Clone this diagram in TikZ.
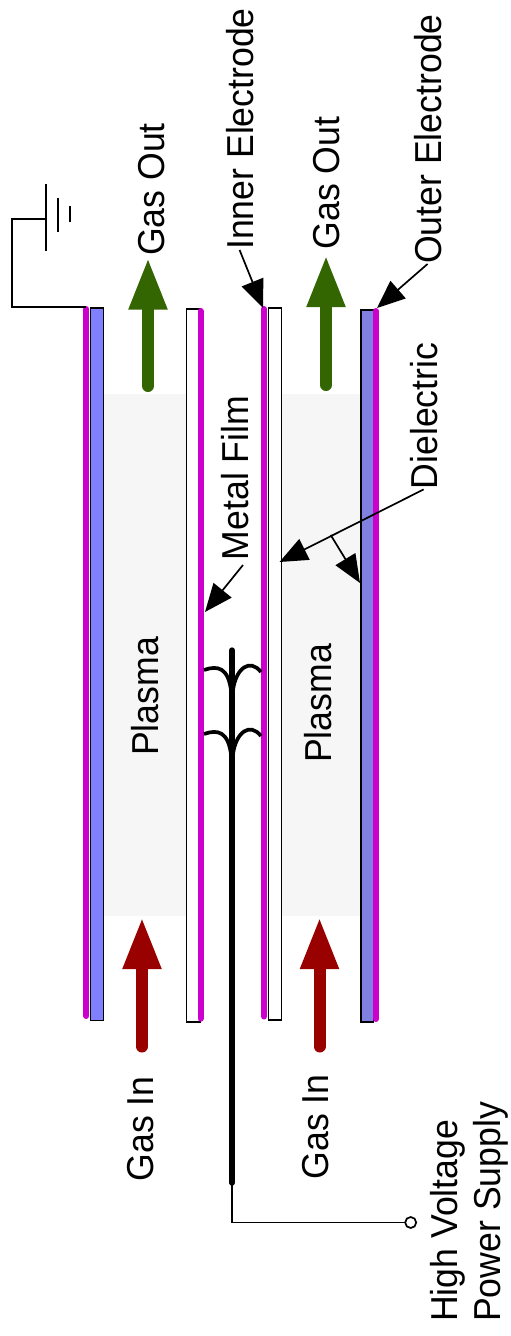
\documentclass[tikz,border=0pt]{standalone}
\usepackage{fontspec}
\setmainfont[FakeStretch=0.95]{Liberation Sans}
\usetikzlibrary{arrows.meta}
\definecolor{filmcol}{HTML}{CC00CC}
\definecolor{gasoutcol}{HTML}{336600}
\definecolor{gasincol}{HTML}{990000}
\definecolor{plasmacol}{HTML}{F6F6F6}
\definecolor{tubeleft}{HTML}{8080FF}
\definecolor{tuberight}{HTML}{8080E0}
\tikzset{
  film/.style={draw=filmcol,line width=6pt,line cap=round},
  caption/.style={rotate=90,anchor=base,inner sep=0pt,font=\fontsize{37.5}{45}\selectfont},
  wire/.style={line width=1.7pt},
  pointer/.style={line width=1.7pt,-{Triangle[length=28pt,width=23pt]}},
  gasflow/.style={line width=12pt,line cap=round,-{Triangle[length=52pt,width=35.5pt]}},
}
\begin{document}
\begin{tikzpicture}[x=1pt,y=-1pt]
\useasboundingbox (0,0) rectangle (511,1336);

% Plasma regions
\fill[plasmacol] (104,394) rectangle (186,916);
\fill[plasmacol] (282,394) rectangle (360,916);

% Films behind the tubes
\foreach \x/\a/\b in {86.3/309/1016,264/309/1016.5} {
  \draw[film] (\x,\a) -- (\x,\b);
}

% Dielectric tubes
\draw[wire,fill=tubeleft] (90.5,308) rectangle (103.5,1020.5);
\draw[wire,fill=white] (186.5,309) rectangle (200,1022);
\draw[wire,fill=white] (268.5,308) rectangle (281.5,1020);
\draw[wire,fill=tuberight] (361,310) rectangle (373.5,1022);

% Films over the tubes
\foreach \x/\a/\b in {200.5/311/1018.7,375.7/311/1019} {
  \draw[film] (\x,\a) -- (\x,\b);
}

% Gas arrows
\foreach \x/\y/\t in {148/386/257.5,326/385/255} {
  \draw[gasflow,color=gasoutcol] (\x,\y) -- (\x,\t);
}
\foreach \x/\y/\t in {142/1046.5/917,319.5/1046.5/917} {
  \draw[gasflow,color=gasincol] (\x,\y) -- (\x,\t);
}

% Labels
\node[caption] (gasout1) at (164,189.5) {Gas Out};
\node[caption] (gasout2) at (339,183) {Gas Out};
\node[caption] (inner) at (253,129) {Inner Electrode};
\node[caption] (outer) at (441,139) {Outer Electrode};
\node[caption] (dielectric) at (437,416) {Dielectric};
\node[caption] (metal) at (248,478) {Metal Film};
\node[caption] (plasma1) at (158,696.5) {Plasma};
\node[caption] (plasma2) at (331,703.5) {Plasma};
\node[caption] (gasin1) at (153,1129) {Gas In};
\node[caption] (gasin2) at (328,1127) {Gas In};
\node[caption,anchor=base west] (hv) at (457,1322) {High Voltage};
\node[caption,anchor=base west] (ps) at (500,1322) {Power Supply};

% Pointers
\coordinate (innertip) at (263,308);
\coordinate (outertip) at (377,308);
\coordinate (dieltip) at (279.5,562);
\coordinate (branch) at (330.7,535);
\coordinate (branchtip) at (360,583);
\coordinate (metalfrom) at (243,565);
\coordinate (metaltip) at (205,612);
\draw[pointer] (inner.west) -- (innertip);
\draw[pointer] (outer.west) -- (outertip);
\draw[pointer] (dielectric.west) -- (dieltip);
\draw[pointer] (branch) -- (branchtip);
\draw[pointer] (metalfrom) -- (metaltip);

% Ground
\draw[wire] (86,306.7) -- (11.7,306.7) -- (11.7,218.7) -- (45.7,218.7);
\draw[wire] (45.7,184) -- (45.7,251);
\draw[wire] (58,198) -- (58,231.7);
\draw[wire] (70,206) -- (70,221.7);

% High voltage lead
\draw[line width=5.3pt,line cap=round] (232,650) -- (232,1183);
\coordinate (terminal) at (410.7,1222.5);
\draw[wire] (232,1183) -- (232,1222.5) -- (405,1222.5);
\draw[wire,fill=white] (terminal) circle (5.5);

% Coupling curves
\foreach \d in {0,64} {
  \draw[line width=3.7pt] (204,670+\d) .. controls (218,665+\d) and (228,668+\d) .. (231,690+\d);
  \draw[line width=3.7pt] (233,690+\d) .. controls (236,668+\d) and (250,658+\d) .. (261,672+\d);
}
\end{tikzpicture}
\end{document}
